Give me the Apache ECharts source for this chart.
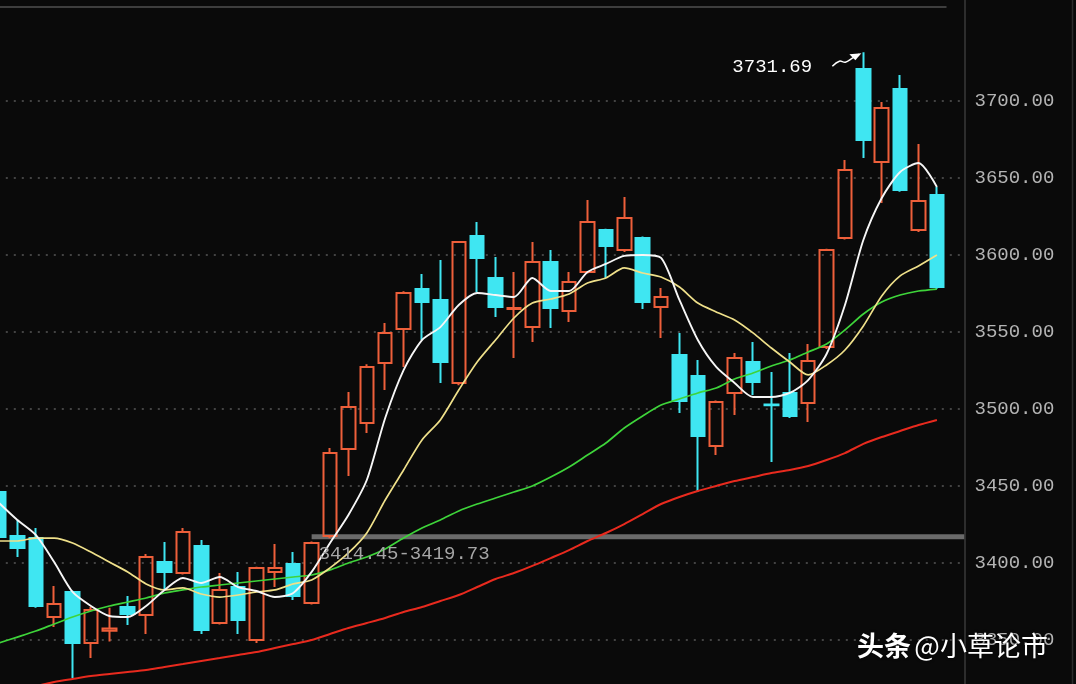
<!DOCTYPE html>
<html><head><meta charset="utf-8">
<script src="https://cdn.jsdelivr.net/npm/echarts@6/dist/echarts.min.js"></script>
<style>html,body{margin:0;padding:0;background:#0a0a0a;overflow:hidden}#c{width:1076px;height:684px}</style>
</head><body><div id="c"></div>
<script>
// ---- data ----
const categories = [];
for (let i = 1; i <= 53; i++) categories.push(i <= 52 ? 'D' + i : '');

const opens = [3446.1,3417.5,3416.2,3364.9,3381.2,3348.1,3356.0,3371.4,3366.2,3400.6,
3393.5,3411.0,3361.0,3384.4,3350.0,3394.2,3399.4,3374.0,3417.5,3474.0,
3490.9,3529.9,3552.0,3577.9,3570.8,3516.9,3612.3,3585.1,3565.0,3553.2,
3595.5,3563.6,3589.0,3616.2,3603.2,3611.0,3566.2,3535.1,3521.4,3476.0,
3510.4,3530.5,3503.0,3510.4,3503.9,3540.3,3611.0,3720.8,3660.4,3707.8,
3616.2,3639.0];
const closes = [3416.9,3409.7,3372.1,3373.4,3348.1,3369.5,3357.5,3366.9,3403.9,3394.2,
3420.1,3356.5,3382.5,3363.0,3396.8,3396.8,3378.6,3413.0,3471.4,3501.3,
3527.3,3549.4,3575.3,3569.5,3530.5,3608.4,3598.1,3566.2,3565.6,3595.5,
3565.6,3582.5,3621.4,3605.8,3624.0,3569.5,3572.7,3505.2,3482.5,3504.5,
3533.1,3517.5,3502.4,3495.5,3531.2,3603.2,3655.2,3674.7,3695.5,3642.2,
3635.1,3579.2];
const lows = [3414.0,3403.9,3371.0,3358.4,3325.3,3338.3,3349.0,3359.7,3353.9,3382.5,
3392.5,3353.9,3360.0,3353.9,3348.0,3384.4,3376.0,3373.0,3416.0,3456.5,
3484.4,3512.3,3527.3,3544.8,3516.9,3515.5,3576.0,3559.7,3533.1,3543.5,
3552.6,3556.5,3588.0,3585.1,3602.0,3564.9,3546.1,3497.4,3446.1,3470.1,
3496.1,3509.1,3465.6,3494.2,3491.6,3539.0,3610.0,3663.0,3633.8,3641.0,
3615.0,3578.0];
const highs = [3448.0,3427.9,3422.7,3385.1,3382.0,3371.4,3371.0,3378.6,3405.8,3413.6,
3422.7,3414.9,3393.5,3394.2,3397.5,3412.3,3407.1,3414.0,3474.7,3511.0,
3529.0,3555.8,3576.5,3587.7,3596.8,3609.0,3621.4,3598.7,3589.0,3608.4,
3603.2,3589.0,3635.7,3617.0,3637.7,3612.0,3578.6,3549.4,3531.8,3505.5,
3536.4,3543.5,3524.0,3536.4,3542.2,3604.0,3661.7,3731.69,3699.4,3716.9,
3672.1,3644.2];

const ma5 = [3439.0,3427.9,3418.2,3400.6,3381.2,3372.1,3365.6,3364.9,3372.1,3382.5,
3390.3,3387.0,3390.9,3384.4,3381.8,3377.9,3380.5,3394.2,3413.0,3431.2,
3453.9,3494.2,3525.3,3544.8,3553.2,3567.5,3575.3,3574.0,3572.7,3585.1,
3576.6,3576.6,3589.0,3594.2,3599.4,3600.0,3598.1,3570.8,3544.8,3527.3,
3516.9,3507.8,3507.8,3510.4,3518.8,3535.7,3567.5,3609.7,3637.0,3653.9,
3659.7,3644.2];
const ma10 = [3414.3,3414.3,3416.2,3416.2,3413.0,3407.1,3400.6,3394.2,3386.4,3382.5,
3383.8,3379.9,3377.9,3379.2,3381.2,3382.5,3386.4,3389.0,3396.8,3406.5,
3419.5,3440.9,3460.4,3479.9,3492.9,3512.3,3530.5,3544.8,3559.1,3568.8,
3571.4,3574.7,3581.8,3585.1,3591.6,3588.3,3585.7,3579.2,3568.8,3563.0,
3557.8,3549.4,3539.6,3530.5,3522.1,3528.6,3538.3,3553.9,3573.4,3586.4,
3592.9,3600.0];
const ma30 = [3348.1,3351.9,3355.8,3360.4,3364.9,3368.8,3372.1,3374.7,3377.3,3380.5,
3382.5,3384.4,3385.7,3387.0,3388.3,3389.6,3390.9,3392.2,3395.5,3400.0,
3403.9,3409.1,3416.2,3422.7,3427.9,3433.8,3438.3,3442.2,3446.1,3450.0,
3455.8,3462.3,3470.1,3477.9,3487.7,3495.5,3502.6,3506.5,3510.4,3513.6,
3519.5,3523.4,3527.9,3531.8,3537.0,3542.2,3551.3,3561.7,3569.5,3574.0,
3576.6,3577.9];
const ma60 = [3316.2,3318.2,3320.1,3322.7,3324.7,3326.6,3327.9,3329.2,3330.5,3332.5,
3334.4,3336.4,3338.3,3340.3,3342.2,3344.8,3347.4,3350.0,3353.9,3357.8,
3361.0,3364.3,3368.2,3371.4,3375.3,3379.2,3384.4,3389.6,3393.5,3398.1,
3403.2,3408.4,3414.3,3419.5,3425.3,3431.8,3438.3,3442.9,3446.8,3450.0,
3453.2,3455.8,3458.4,3460.4,3463.0,3466.9,3471.4,3477.3,3481.8,3485.7,
3489.6,3492.9];

const bandLow = 3414.45, bandHigh = 3419.73, bandStartIndex = 17;
const highLabel = '3731.69';
const watermarkA = '头条', watermarkB = '@小草论市';
// ----------------------------------------------

const MONO = '"Liberation Mono","DejaVu Sans Mono",monospace';
const candleData = opens.map((o, i) => [o, closes[i], lows[i], highs[i]]);

const chart = echarts.init(document.getElementById('c'), null, {renderer: 'canvas'});
const option = {
  backgroundColor: '#0a0a0a',
  animation: false,
  grid: {left: -10.2, right: 111.5, top: 25.54, bottom: -33, containLabel: false, outerBoundsMode: 'none', show: false},
  xAxis: {type: 'category', data: categories, boundaryGap: true, show: false},
  yAxis: {
    type: 'value', position: 'right', min: 3300, max: 3749, interval: 50, scale: true,
    axisLine: {show: false}, axisTick: {show: false},
    axisLabel: {
      color: '#b4b4b4', fontFamily: MONO, fontSize: 19, margin: 10,
      showMaxLabel: false,
      formatter: v => (v % 50 === 0 ? v.toFixed(2) : '')
    },
    splitLine: {show: true, showMaxLine: false, lineStyle: {color: '#575757', width: 1.5, type: [2, 6]}}
  },
  series: [
    {
      type: 'candlestick', data: candleData, barWidth: 14, clip: false,
      itemStyle: {color: 'rgba(0,0,0,0)', color0: '#3fe6f2', borderColor: '#ee5f3a', borderColor0: '#3fe6f2', borderWidth: 2}
    },
    {type: 'line', data: ma60, symbol: 'none', smooth: 0.25, lineStyle: {color: '#e82a1e', width: 2}, z: 3},
    {type: 'line', data: ma30, symbol: 'none', smooth: 0.25, lineStyle: {color: '#3ed43a', width: 1.7}, z: 3},
    {type: 'line', data: ma10, symbol: 'none', smooth: 0.25, lineStyle: {color: '#efe08a', width: 1.7}, z: 3},
    {type: 'line', data: ma5, symbol: 'none', smooth: 0.25, lineStyle: {color: '#f6f6f6', width: 1.9}, z: 3}
  ]
};
chart.setOption(option);

const hiIdx = highs.indexOf(Math.max.apply(null, highs));
const hp = chart.convertToPixel({gridIndex: 0}, [hiIdx, highs[hiIdx]]);
const b1 = chart.convertToPixel({gridIndex: 0}, [bandStartIndex, bandHigh]);
const b0 = chart.convertToPixel({gridIndex: 0}, [bandStartIndex, bandLow]);
const rect = chart.getModel().getComponent('grid').coordinateSystem.getRect();
const gridRight = rect.x + rect.width;
const bandY = (b0[1] + b1[1]) / 2;
const hx = hp[0], hy = hp[1];

chart.setOption({
  graphic: [
    {type: 'line', z: 50, shape: {x1: 0, y1: 7, x2: gridRight - 18, y2: 7}, style: {stroke: '#3e3e3e', lineWidth: 2}},
    {type: 'line', z: 50, shape: {x1: gridRight + 0.5, y1: 0, x2: gridRight + 0.5, y2: 684}, style: {stroke: '#3a3a3a', lineWidth: 1.5}},
    {type: 'line', z: 50, shape: {x1: 1072.5, y1: 0, x2: 1072.5, y2: 684}, style: {stroke: '#2c2c2c', lineWidth: 1.5}},
    {type: 'rect', z: 1, shape: {x: b1[0], y: bandY - 2.5, width: gridRight - b1[0], height: 5}, style: {fill: '#6a6a6a'}},
    {type: 'text', z: 60, x: b1[0] + 7, y: bandY + 17, style: {text: bandLow.toFixed(2) + '-' + bandHigh.toFixed(2), fill: '#a6a6a6', font: '19px ' + MONO, verticalAlign: 'middle'}},
    {type: 'text', z: 60, x: hx - 131, y: hy + 15, style: {text: highLabel, fill: '#ffffff', font: '19px ' + MONO, verticalAlign: 'middle'}},
    {type: 'polyline', z: 60, shape: {points: [[hx - 31, hy + 14], [hx - 24, hy + 9], [hx - 18, hy + 10], [hx - 11, hy + 6], [hx - 4, hy + 2]], smooth: 0.4}, style: {stroke: '#ffffff', lineWidth: 1.5, fill: null}},
    {type: 'polygon', z: 60, shape: {points: [[hx - 2, hy + 1], [hx - 14, hy + 2], [hx - 8, hy + 8]]}, style: {fill: '#ffffff'}},
    {type: 'text', z: 100, left: 857, top: 632, style: {
      text: '{a|' + watermarkA + '} {b|' + watermarkB + '}',
      rich: {
        a: {fontFamily: '"Noto Sans CJK SC"', fontSize: 27, fontWeight: 'bold', fill: '#ffffff'},
        b: {fontFamily: '"Noto Sans CJK SC"', fontSize: 27, fill: '#ffffff'}
      },
      textShadowColor: 'rgba(0,0,0,0.7)', textShadowBlur: 3
    }}
  ]
});
</script>
</body></html>
